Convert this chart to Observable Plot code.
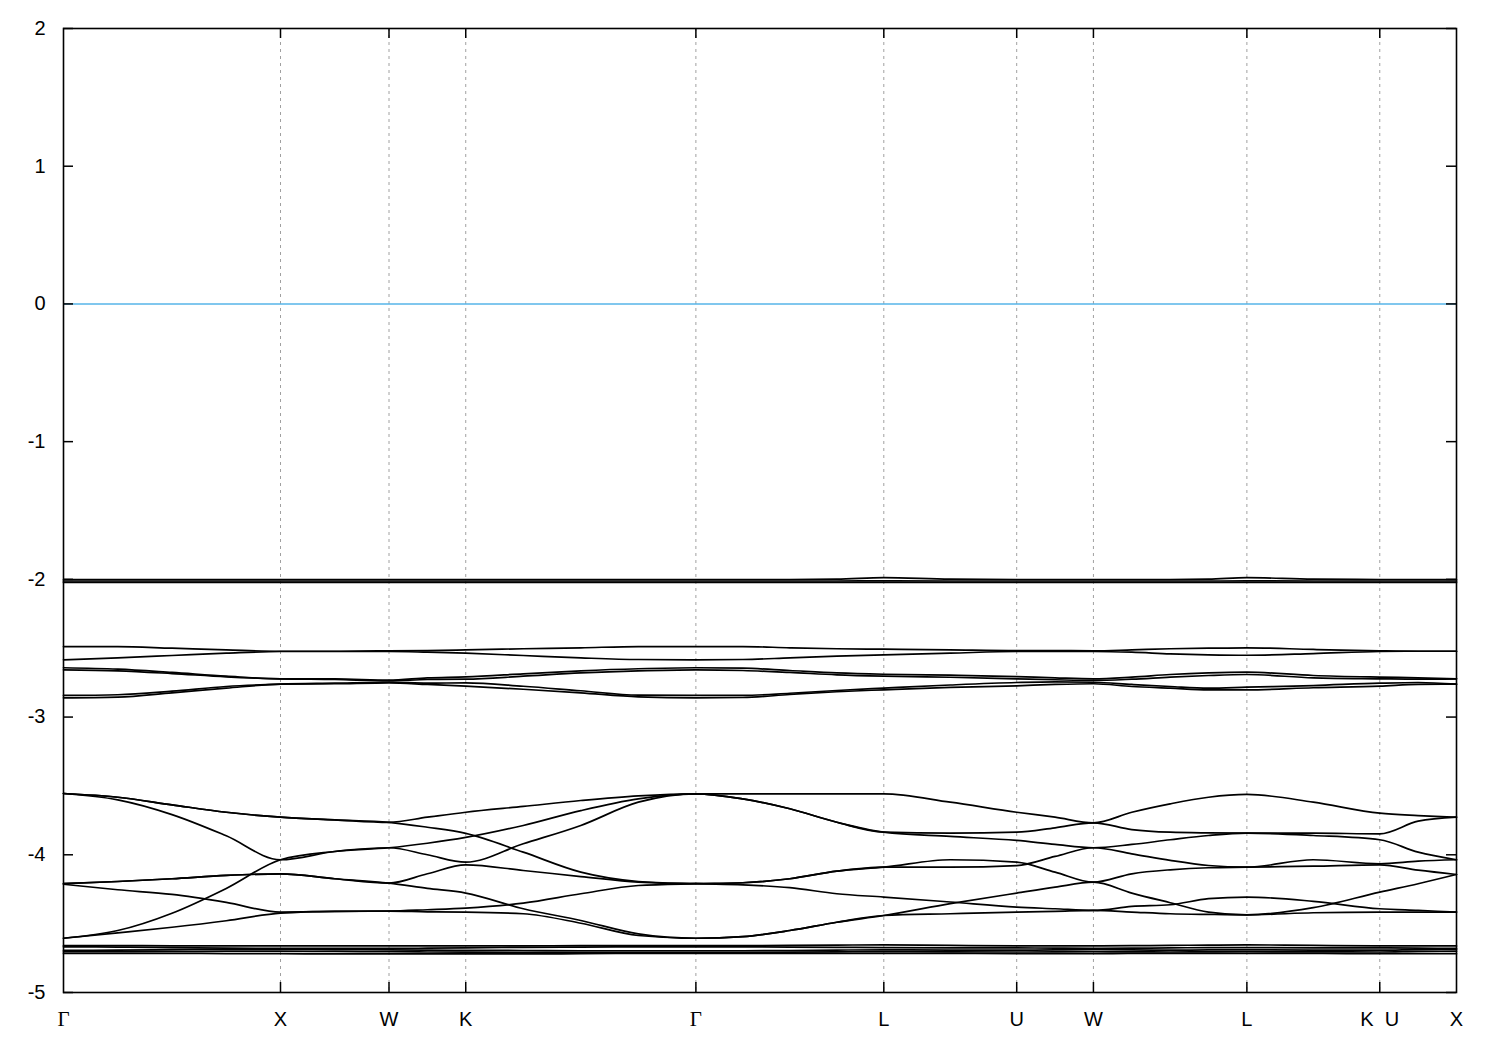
<!DOCTYPE html>
<html>
<head>
<meta charset="utf-8">
<script src="https://cdn.jsdelivr.net/npm/d3@7"></script>
<script src="https://cdn.jsdelivr.net/npm/@observablehq/plot@0.6"></script>
<style>
  html, body { margin: 0; padding: 0; background: #ffffff; }
  #chart { width: 1500px; height: 1050px; }
</style>
</head>
<body>
<div id="chart"></div>
<script>
// High-symmetry points along the path (path length, 2π/a units)
const symLabels = ["Γ", "X", "W", "K", "Γ", "L", "U", "W", "L", "K\u00a0\u00a0U", "X"];
const symK = [0, 1, 1.5, 1.8536, 2.9142, 3.7802, 4.3926, 4.7462, 5.4533, 6.0657, 6.4193];

// k-samples along the path at which band energies were read
const kGrid = [0, 0.25, 0.5, 0.75, 1, 1.25, 1.5, 1.6768, 1.8536, 2.1187, 2.3839, 2.649, 2.9142,
  3.1307, 3.3472, 3.5637, 3.7802, 4.0864, 4.3926, 4.5694, 4.7462, 4.923, 5.0998, 5.2765, 5.4533,
  5.7595, 6.0657, 6.2425, 6.4193];

const yTicks = [-5, -4, -3, -2, -1, 0, 1, 2];
const fermiLevel = [0];

// Bands near -2 eV
const band2a = [-2.001,-2.001,-2.001,-2.001,-2.001,-2.001,-2.001,-2.001,-2.001,-2.001,-2.001,-2.001,-2.001,-2.001,-2.001,-1.999,-1.987,-1.999,-2.001,-2.001,-2.001,-2.001,-2.001,-1.999,-1.987,-1.999,-2.001,-2.001,-2.001];
const band2b = [-2.012,-2.012,-2.012,-2.012,-2.012,-2.012,-2.012,-2.012,-2.012,-2.012,-2.012,-2.012,-2.012,-2.012,-2.012,-2.012,-2.011,-2.012,-2.012,-2.012,-2.012,-2.012,-2.012,-2.012,-2.011,-2.012,-2.012,-2.012,-2.012];
const band2c = [-2.022,-2.022,-2.022,-2.022,-2.022,-2.022,-2.022,-2.022,-2.022,-2.022,-2.022,-2.022,-2.022,-2.022,-2.022,-2.022,-2.022,-2.022,-2.022,-2.022,-2.022,-2.022,-2.022,-2.022,-2.022,-2.022,-2.022,-2.022,-2.022];

// Bands between -2.5 and -2.9 eV
const band25a = [-2.488,-2.488,-2.500,-2.512,-2.522,-2.522,-2.519,-2.517,-2.512,-2.504,-2.497,-2.488,-2.488,-2.488,-2.497,-2.504,-2.507,-2.512,-2.517,-2.517,-2.519,-2.512,-2.504,-2.500,-2.497,-2.509,-2.519,-2.522,-2.522];
const band25b = [-2.584,-2.570,-2.553,-2.536,-2.524,-2.524,-2.524,-2.529,-2.536,-2.553,-2.570,-2.582,-2.584,-2.582,-2.570,-2.558,-2.548,-2.536,-2.524,-2.524,-2.524,-2.529,-2.541,-2.548,-2.551,-2.539,-2.524,-2.522,-2.522];
const band27a = [-2.642,-2.652,-2.676,-2.703,-2.722,-2.722,-2.732,-2.715,-2.708,-2.686,-2.664,-2.649,-2.642,-2.645,-2.662,-2.679,-2.689,-2.696,-2.706,-2.715,-2.722,-2.710,-2.691,-2.679,-2.674,-2.698,-2.710,-2.715,-2.722];
const band27b = [-2.657,-2.664,-2.684,-2.708,-2.722,-2.727,-2.737,-2.727,-2.725,-2.703,-2.679,-2.664,-2.657,-2.662,-2.676,-2.693,-2.703,-2.711,-2.722,-2.729,-2.734,-2.725,-2.710,-2.698,-2.691,-2.715,-2.722,-2.725,-2.722];
const band28a = [-2.843,-2.838,-2.812,-2.778,-2.761,-2.754,-2.747,-2.754,-2.751,-2.776,-2.809,-2.841,-2.843,-2.843,-2.827,-2.807,-2.790,-2.767,-2.749,-2.744,-2.747,-2.763,-2.778,-2.790,-2.783,-2.771,-2.754,-2.749,-2.761];
const band28b = [-2.860,-2.855,-2.824,-2.790,-2.761,-2.758,-2.751,-2.763,-2.776,-2.798,-2.824,-2.853,-2.860,-2.858,-2.836,-2.816,-2.802,-2.784,-2.773,-2.763,-2.758,-2.778,-2.790,-2.802,-2.802,-2.787,-2.776,-2.763,-2.761];

// Bands between -3.5 and -4.6 eV
const bandT1 = [-3.555,-3.582,-3.637,-3.691,-3.727,-3.746,-3.764,-3.727,-3.691,-3.649,-3.606,-3.572,-3.557,-3.557,-3.557,-3.557,-3.557,-3.618,-3.691,-3.727,-3.768,-3.691,-3.630,-3.582,-3.562,-3.618,-3.698,-3.715,-3.727];
const bandT2 = [-3.555,-3.582,-3.637,-3.691,-3.727,-3.746,-3.764,-3.800,-3.845,-3.981,-4.126,-4.194,-4.210,-4.218,-4.239,-4.283,-4.307,-4.343,-4.380,-4.392,-4.404,-4.375,-4.363,-4.319,-4.307,-4.338,-4.392,-4.404,-4.416];
const bandS  = [-3.555,-3.601,-3.708,-3.862,-4.036,-3.976,-3.949,-3.916,-3.874,-3.787,-3.679,-3.594,-3.557,-3.594,-3.666,-3.764,-3.836,-3.843,-3.836,-3.804,-3.768,-3.817,-3.836,-3.841,-3.843,-3.843,-3.848,-3.756,-3.727];
const bandB  = [-4.606,-4.550,-4.424,-4.244,-4.036,-3.976,-3.949,-4.000,-4.054,-3.920,-3.787,-3.618,-3.557,-3.594,-3.666,-3.764,-3.836,-3.867,-3.896,-3.925,-3.949,-3.925,-3.891,-3.860,-3.843,-3.860,-3.891,-3.981,-4.036];
const bandG1 = [-4.210,-4.194,-4.174,-4.150,-4.138,-4.174,-4.206,-4.138,-4.073,-4.114,-4.158,-4.199,-4.210,-4.203,-4.174,-4.119,-4.090,-4.036,-4.054,-4.126,-4.199,-4.138,-4.109,-4.094,-4.090,-4.083,-4.073,-4.112,-4.143];
const bandG2 = [-4.210,-4.194,-4.174,-4.150,-4.138,-4.174,-4.206,-4.244,-4.278,-4.392,-4.477,-4.574,-4.606,-4.594,-4.550,-4.490,-4.441,-4.355,-4.278,-4.235,-4.199,-4.278,-4.348,-4.416,-4.436,-4.384,-4.271,-4.210,-4.143];
const bandD  = [-4.214,-4.254,-4.288,-4.346,-4.416,-4.411,-4.409,-4.399,-4.387,-4.351,-4.283,-4.223,-4.210,-4.203,-4.174,-4.119,-4.090,-4.090,-4.078,-4.012,-3.949,-3.993,-4.041,-4.078,-4.090,-4.036,-4.065,-4.046,-4.036];
const bandC  = [-4.606,-4.567,-4.526,-4.479,-4.424,-4.411,-4.409,-4.414,-4.416,-4.428,-4.497,-4.586,-4.606,-4.594,-4.550,-4.490,-4.441,-4.428,-4.416,-4.411,-4.404,-4.416,-4.428,-4.433,-4.436,-4.421,-4.416,-4.416,-4.416];

// Bands near -4.7 eV
const band47a = [-4.660,-4.660,-4.661,-4.662,-4.662,-4.662,-4.662,-4.662,-4.662,-4.661,-4.660,-4.659,-4.659,-4.659,-4.658,-4.656,-4.654,-4.658,-4.662,-4.662,-4.662,-4.660,-4.658,-4.656,-4.654,-4.658,-4.662,-4.662,-4.662];
const band47b = [-4.668,-4.670,-4.674,-4.678,-4.680,-4.680,-4.680,-4.678,-4.676,-4.672,-4.670,-4.668,-4.668,-4.668,-4.670,-4.672,-4.674,-4.676,-4.676,-4.678,-4.680,-4.678,-4.676,-4.674,-4.674,-4.676,-4.676,-4.678,-4.680];
const band47c = [-4.694,-4.693,-4.689,-4.686,-4.686,-4.688,-4.690,-4.692,-4.694,-4.695,-4.697,-4.697,-4.697,-4.697,-4.695,-4.692,-4.690,-4.692,-4.693,-4.691,-4.689,-4.691,-4.692,-4.691,-4.690,-4.692,-4.693,-4.688,-4.686];
const band47d = [-4.704,-4.704,-4.702,-4.700,-4.700,-4.702,-4.704,-4.706,-4.707,-4.708,-4.709,-4.708,-4.708,-4.708,-4.707,-4.705,-4.703,-4.705,-4.706,-4.705,-4.704,-4.705,-4.706,-4.705,-4.704,-4.705,-4.706,-4.702,-4.700];
const band47e = [-4.716,-4.716,-4.716,-4.717,-4.718,-4.720,-4.720,-4.720,-4.720,-4.720,-4.718,-4.716,-4.716,-4.716,-4.716,-4.716,-4.716,-4.716,-4.718,-4.718,-4.718,-4.716,-4.716,-4.716,-4.716,-4.716,-4.718,-4.718,-4.718];

const allBands = {band2a, band2b, band2c, band25a, band25b, band27a, band27b, band28a, band28b,
  bandT1, bandT2, bandS, bandB, bandG1, bandG2, bandD, bandC, band47a, band47b, band47c, band47d, band47e};

const rows = [];
for (const [name, arr] of Object.entries(allBands)) {
  arr.forEach((e, i) => rows.push({k: kGrid[i], e, band: name}));
}

const symPts = symK.map((k, i) => ({k, label: symLabels[i]}));
const innerSym = symK.slice(1, -1);
const gammaPts = symPts.filter(d => d.label === "Γ");
const otherPts = symPts.filter(d => d.label !== "Γ");

const W = 1500, H = 1050;
const mL = 63, mR = 44, mT = 28, mB = 58;
const innerW = W - mL - mR, innerH = H - mT - mB;
const tickLen = 10;

const chart = Plot.plot({
  width: W,
  height: H,
  marginLeft: mL,
  marginRight: mR,
  marginTop: mT,
  marginBottom: mB,
  style: {fontFamily: "'Liberation Sans', Arial, sans-serif", background: "#ffffff", color: "#000000"},
  x: {domain: [0, symK[symK.length - 1]], axis: null},
  y: {domain: [-5, 2], axis: null},
  marks: [
    Plot.ruleX(innerSym, {x: d => d, stroke: "#a0a0a0", strokeWidth: 1, strokeDasharray: "3,4"}),
    Plot.ruleY(fermiLevel, {y: d => d, stroke: "#56b4e9", strokeWidth: 1.4}),
    Plot.line(rows, {x: "k", y: "e", z: "band", stroke: "#000000", strokeWidth: 1.7, curve: "monotone-x"}),
    Plot.tickY(yTicks, {y: d => d, insetRight: innerW - tickLen, stroke: "#000", strokeWidth: 1.5}),
    Plot.tickY(yTicks, {y: d => d, insetLeft: innerW - tickLen, stroke: "#000", strokeWidth: 1.5}),
    Plot.tickX(innerSym, {x: d => d, insetTop: innerH - tickLen, stroke: "#000", strokeWidth: 1.5}),
    Plot.tickX(innerSym, {x: d => d, insetBottom: innerH - tickLen, stroke: "#000", strokeWidth: 1.5}),
    Plot.frame({stroke: "#000", strokeWidth: 1.6}),
    Plot.axisY(yTicks, {tickSize: 0, tickPadding: 18, tickFormat: d => String(d), fontSize: 20, label: null}),
    Plot.text(otherPts, {x: "k", text: "label", frameAnchor: "bottom", dy: 19, lineAnchor: "top", fontSize: 20, fill: "#000"}),
    Plot.text(gammaPts, {x: "k", text: "label", frameAnchor: "bottom", dy: 19, lineAnchor: "top", fontSize: 21, fill: "#000", fontFamily: "'Liberation Serif', 'DejaVu Serif', serif"})
  ]
});

document.getElementById("chart").appendChild(chart);
</script>
</body>
</html>
